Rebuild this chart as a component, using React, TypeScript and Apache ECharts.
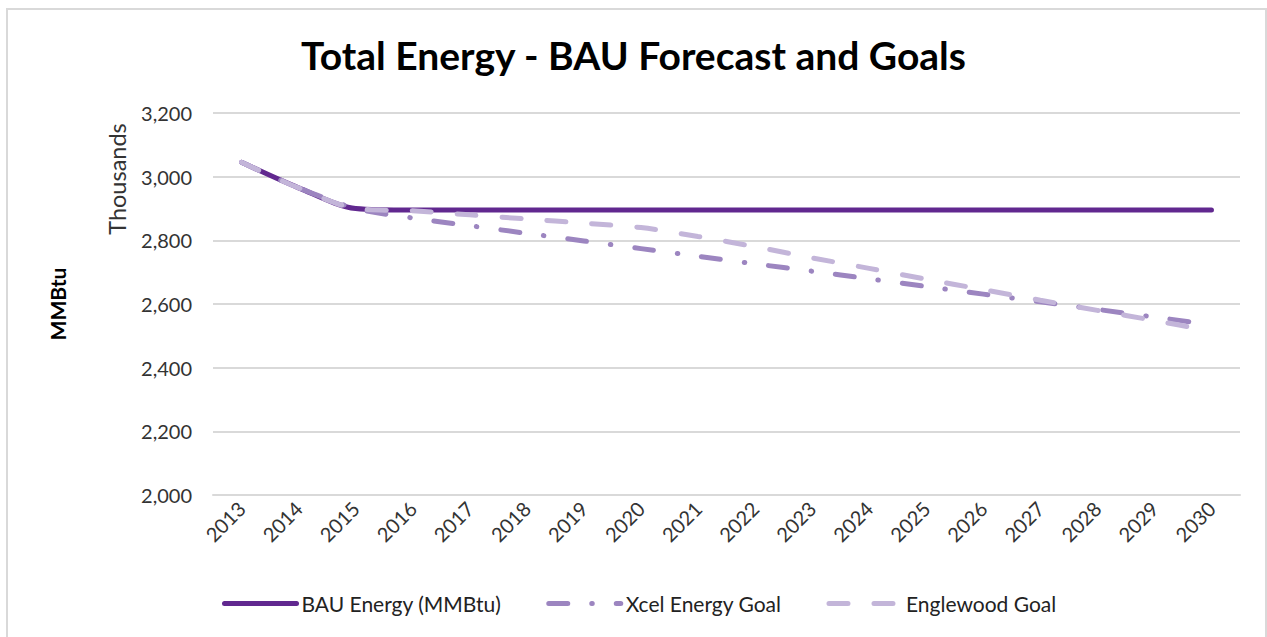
import React, { useEffect, useRef } from "react";
import * as echarts from "echarts";

const years = ["2013","2014","2015","2016","2017","2018","2019","2020","2021","2022","2023","2024","2025","2026","2027","2028","2029","2030"];
const bauEnergy = [3045,2965,2900,2895,2895,2895,2895,2895,2895,2895,2895,2895,2895,2895,2895,2895,2895,2895];
const xcelGoal = [3045,2965,2900,2870,2846,2822,2798,2774,2750,2726,2703,2679,2655,2631,2607,2583,2559,2535];
const englewoodGoal = [3045,2965,2900,2893,2880,2867,2854,2840,2812,2780,2745,2712,2678,2645,2612,2580,2548,2515];
const FONT = "Lato, 'Open Sans', sans-serif";

export default function App() {
  const ref = useRef<HTMLDivElement>(null);
  useEffect(() => {
    const chart = echarts.init(ref.current!, null, { renderer: "svg" });
    chart.setOption({
      animation: false,
      backgroundColor: "#ffffff",
      title: {
        text: "Total Energy - BAU Forecast and Goals",
        left: "center",
        top: 30,
        textStyle: { fontFamily: FONT, fontWeight: "bold", fontSize: 39, color: "#000" },
      },
      grid: { left: 213, right: 27, top: 113, bottom: 142 },
      legend: {
        top: 588,
        left: 217,
        itemWidth: 72,
        itemHeight: 6,
        itemGap: 45,
        itemStyle: { opacity: 0 },
        lineStyle: { width: 5, cap: "round" },
        textStyle: { fontFamily: FONT, fontSize: 21, color: "#222" },
        data: ["BAU Energy (MMBtu)", "Xcel Energy Goal", "Englewood Goal"],
      },
      xAxis: {
        type: "category",
        data: years,
        boundaryGap: true,
        axisLine: { lineStyle: { color: "#d9d9d9", width: 2 } },
        axisTick: { show: false },
        axisLabel: { rotate: 45, margin: 10, fontFamily: FONT, fontSize: 20, color: "#333" },
      },
      yAxis: {
        type: "value",
        min: 2000,
        max: 3200,
        interval: 200,
        name: "MMBtu",
        nameLocation: "middle",
        nameRotate: 90,
        nameGap: 145,
        nameTextStyle: { fontFamily: FONT, fontWeight: "bold", fontSize: 21, color: "#000" },
        axisLine: { show: false },
        axisTick: { show: false },
        splitLine: { lineStyle: { color: "#d9d9d9", width: 2 } },
        axisLabel: {
          margin: 21,
          fontFamily: FONT,
          fontSize: 20,
          color: "#333",
          formatter: (v: number) => v.toLocaleString("en-US"),
        },
      },
      graphic: [
        {
          type: "rect",
          shape: { x: 7, y: 9, width: 1259, height: 640 },
          style: { fill: "none", stroke: "#d9d9d9", lineWidth: 2 },
          silent: true,
        },
        {
          type: "text",
          x: 117,
          y: 179,
          rotation: Math.PI / 2,
          style: {
            text: "Thousands",
            fontFamily: FONT,
            fontSize: 23.5,
            fill: "#333",
            align: "center",
            verticalAlign: "middle",
          },
        },
      ],
      series: [
        {
          name: "BAU Energy (MMBtu)",
          type: "line",
          data: bauEnergy,
          smooth: 0.3,
          symbol: "none",
          z: 3,
          itemStyle: { color: "#61288f" },
          lineStyle: { color: "#61288f", width: 5, cap: "round" },
        },
        {
          name: "Xcel Energy Goal",
          type: "line",
          data: xcelGoal,
          smooth: 0.3,
          symbol: "none",
          z: 4,
          itemStyle: { color: "#9c85c0" },
          lineStyle: { color: "#9c85c0", width: 5, cap: "round", type: [19, 24, 0.5, 24] },
        },
        {
          name: "Englewood Goal",
          type: "line",
          data: englewoodGoal,
          smooth: 0.3,
          symbol: "none",
          z: 5,
          itemStyle: { color: "#c3b5d9" },
          lineStyle: { color: "#c3b5d9", width: 5, cap: "round", type: [19, 26] },
        },
      ],
    });
    return () => chart.dispose();
  }, []);
  return <div ref={ref} style={{ position: "absolute", left: 0, top: 0, width: 1267, height: 637 }} />;
}
